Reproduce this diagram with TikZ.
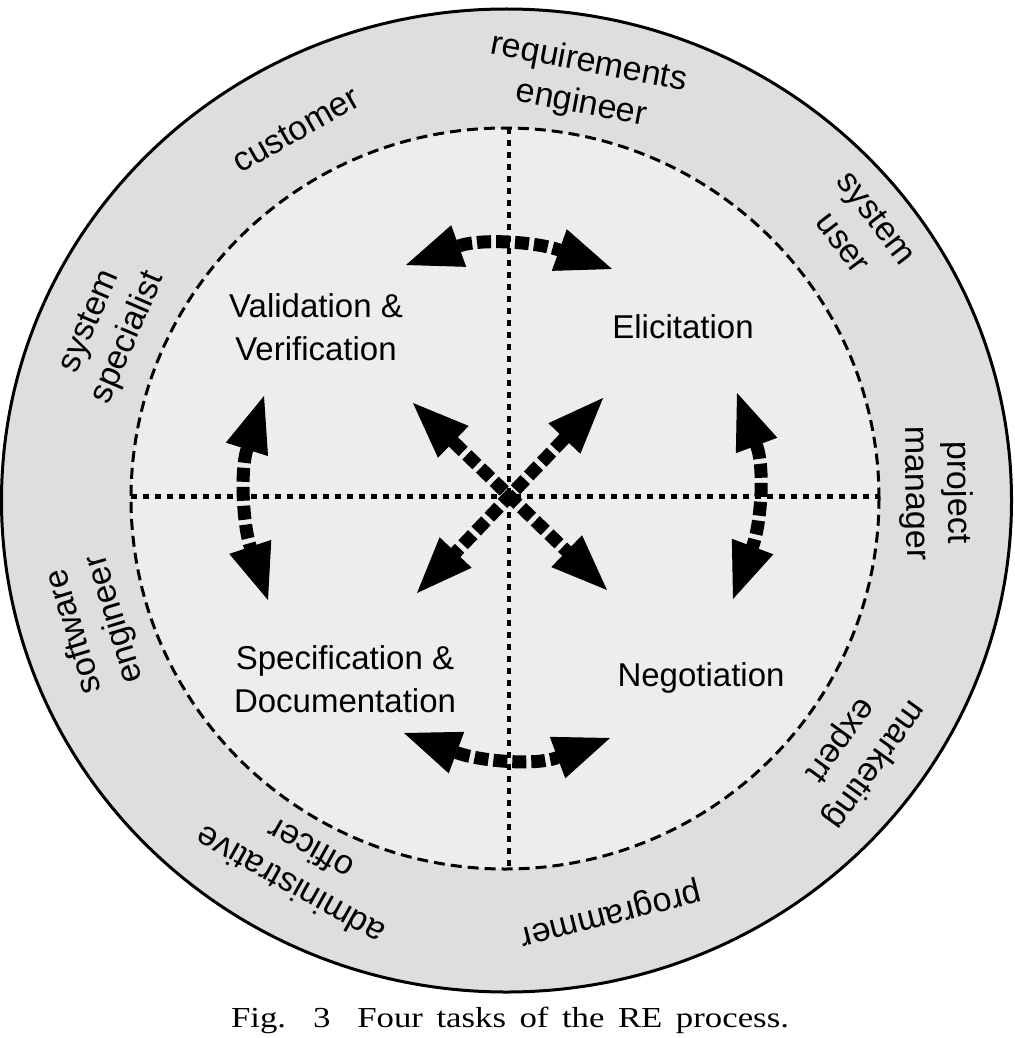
\documentclass[tikz,border=0pt]{standalone}
\usepackage{fontspec}
\usepackage{graphicx}
\setmainfont{Liberation Sans}
\newfontfamily\capfont{Liberation Serif}
\usetikzlibrary{arrows.meta}
\definecolor{ringgray}{RGB}{222,222,222}
\definecolor{innergray}{RGB}{237,237,237}
\begin{document}
\begin{tikzpicture}[x=1pt,y=-1pt,
  ringlabel/.style={align=center,font=\fontsize{34}{42}\selectfont,inner sep=0pt},
  task/.style={align=center,font=\fontsize{33}{43}\selectfont,inner sep=0pt},
  bigarrow/.style={line width=13pt,line cap=butt,dash pattern=on 14pt off 5pt,{Triangle[length=56pt,width=44pt,line width=1pt]}-{Triangle[length=56pt,width=44pt,line width=1pt]}},
  crossline/.style={line width=4.5pt,dash pattern=on 6pt off 6pt}]
\useasboundingbox (0,0) rectangle (1014,1038);
\fill[white] (0,0) rectangle (1014,1038);
% rings
\draw[line width=3pt,fill=ringgray] (506.5,500.5) ellipse [x radius=505pt,y radius=491.5pt];
\draw[line width=3pt,dash pattern=on 11pt off 6pt,fill=innergray] (505,498.5) ellipse [x radius=374pt,y radius=370.5pt];
% cross
\coordinate (hl) at (131,496.5);
\coordinate (hr) at (879,496.5);
\coordinate (vt) at (509,128);
\coordinate (vb) at (509,869);
\draw[crossline] (hl) -- (hr);
\draw[crossline] (vt) -- (vb);
% task labels
\node[task] (vv) at (316,327) {Validation \&\\Verification};
\node[task] (el) at (683,327) {Elicitation};
\node[task] (sd) at (345,679) {Specification \&\\Documentation};
\node[task] (ne) at (701,678) {Negotiation};
% arrow end points
\coordinate (topL) at (406,265);
\coordinate (topR) at (612,269);
\coordinate (botL) at (404,733);
\coordinate (botR) at (610,738);
\coordinate (rgtT) at (737,393);
\coordinate (rgtB) at (733,599);
\coordinate (lftT) at (264,396);
\coordinate (lftB) at (268,600);
\coordinate (dUL) at (413,403);
\coordinate (dLR) at (607,590);
\coordinate (dUR) at (603,398);
\coordinate (dLL) at (417,593);
\draw[bigarrow] (topL) .. controls (481,238) and (537,242) .. (topR);
\draw[bigarrow] (botL) .. controls (479,761) and (535,766) .. (botR);
\draw[bigarrow] (rgtT) .. controls (765,468) and (761,524) .. (rgtB);
\draw[bigarrow] (lftT) .. controls (240,471) and (243,525) .. (lftB);
\draw[bigarrow] (dUL) -- (dLR);
\draw[bigarrow] (dUR) -- (dLL);
% ring labels
\node[ringlabel,rotate=29.6] (cu) at (296,130) {customer};
\node[ringlabel,rotate=-10.8] (re) at (585,84) {requirements\\engineer};
\node[ringlabel,rotate=-52.7] (su) at (860,230) {system\\user};
\node[ringlabel,rotate=-89] (pm) at (936,493) {project\\manager};
\node[ringlabel,rotate=-125.8] (me) at (857,752) {marketing\\expert};
\node[ringlabel,rotate=-165.8] (pr) at (610,912) {programmer};
\node[ringlabel,rotate=150.8] (ao) at (300,868) {administrative\\officer};
\node[ringlabel,rotate=106.9] (se) at (95,625) {software\\engineer};
\node[ringlabel,rotate=66.8] (ss) at (110,330) {system\\specialist};
% caption
\node[anchor=base,inner sep=0pt,font=\capfont\fontsize{29}{31}\selectfont] (cap) at (510,1027) {\scalebox{1.2}[1]{\makebox[465pt][s]{Fig.\ \ 3\ \ Four tasks of the RE process.}}};
\end{tikzpicture}
\end{document}
